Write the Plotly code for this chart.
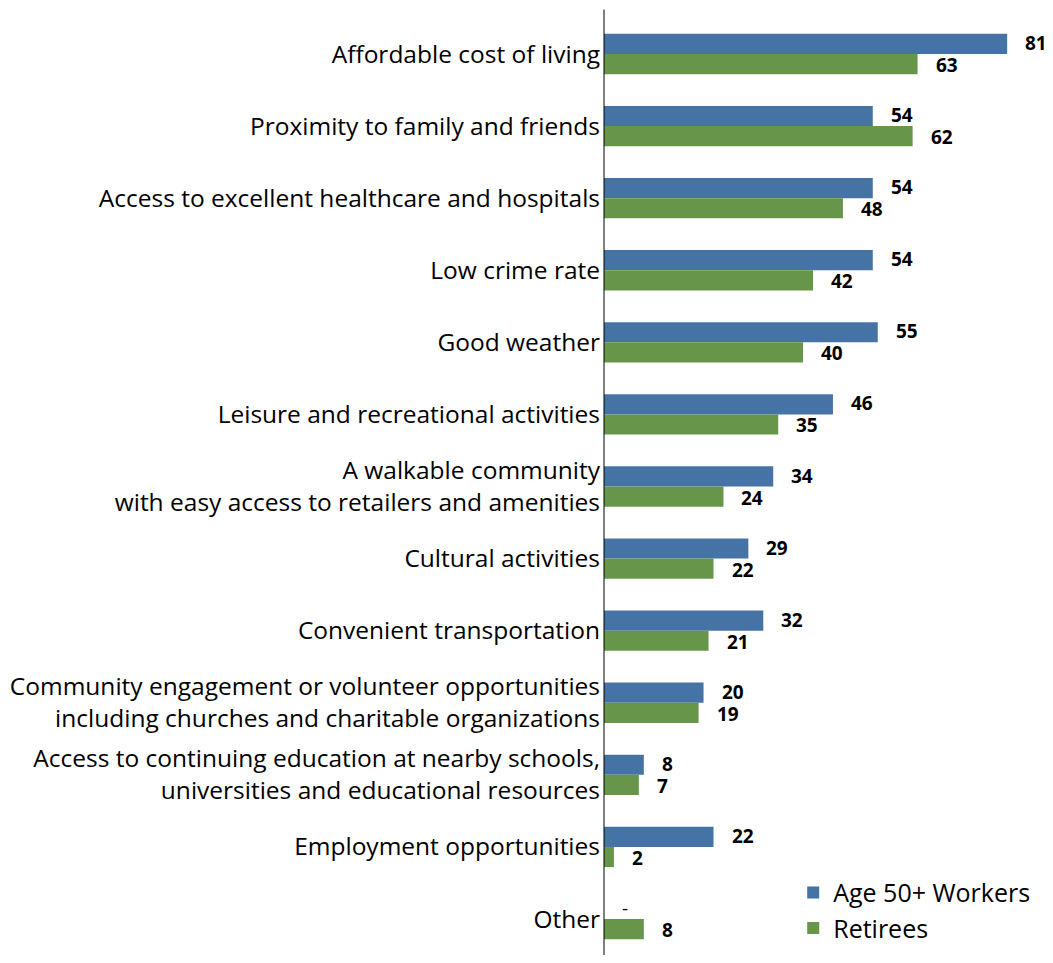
"""Where people want to live in retirement: age 50+ workers vs retirees."""

import plotly.graph_objects as go

categories = [
    "Affordable cost of living",
    "Proximity to family and friends",
    "Access to excellent healthcare and hospitals",
    "Low crime rate",
    "Good weather",
    "Leisure and recreational activities",
    "A walkable community<br>with easy access to retailers and amenities",
    "Cultural activities",
    "Convenient transportation",
    "Community engagement or volunteer opportunities<br>including churches and charitable organizations",
    "Access to continuing education at nearby schools,<br>universities and educational resources",
    "Employment opportunities",
    "Other",
]
workers = [81, 54, 54, 54, 55, 46, 34, 29, 32, 20, 8, 22, None]
retirees = [63, 62, 48, 42, 40, 35, 24, 22, 21, 19, 7, 2, 8]

BLUE = "#4573A5"
GREEN = "#67954A"
FONT = "Open Sans"

fig = go.Figure()
fig.add_trace(go.Bar(y=categories, x=workers, name="Age 50+ Workers",
                     orientation="h", marker=dict(color=BLUE, line=dict(width=0))))
fig.add_trace(go.Bar(y=categories, x=retirees, name="Retirees",
                     orientation="h", marker=dict(color=GREEN, line=dict(width=0))))

# value labels, placed past the bar ends like Excel's "outside end"
for cat, w, r in zip(categories, workers, retirees):
    fig.add_annotation(x=w or 0, y=cat, text="-" if w is None else f"<b>{w}</b>",
                       xanchor="left", xshift=16, yshift=11, showarrow=False,
                       font=dict(size=19, color="black", family=FONT))
    fig.add_annotation(x=r, y=cat, text=f"<b>{r}</b>",
                       xanchor="left", xshift=16, yshift=-11, showarrow=False,
                       font=dict(size=19, color="black", family=FONT))

# the axis line runs a little above the plot area
fig.add_shape(type="line", xref="paper", yref="paper", x0=0, x1=0, y0=0, y1=1.009,
              line=dict(color="black", width=1))

# the page body has an 8px margin: keep the figure small enough not to scroll
fig.update_layout(
    width=1037, height=947,
    margin=dict(l=596, r=1, t=10, b=0),
    barmode="group", bargap=0.44, bargroupgap=0,
    plot_bgcolor="white", paper_bgcolor="white",
    font=dict(family=FONT, size=24.5, color="black"),
    showlegend=True,
    legend=dict(x=0.43, y=0.091, xanchor="left", yanchor="top",
                font=dict(size=25), bgcolor="rgba(0,0,0,0)",
                itemwidth=30, tracegroupgap=0),
    xaxis=dict(range=[0, 88.4], visible=False, fixedrange=True),
    yaxis=dict(autorange="reversed", showline=False, ticks="", showgrid=False,
               ticklabelstandoff=3),
)

fig.write_html("out.html")
